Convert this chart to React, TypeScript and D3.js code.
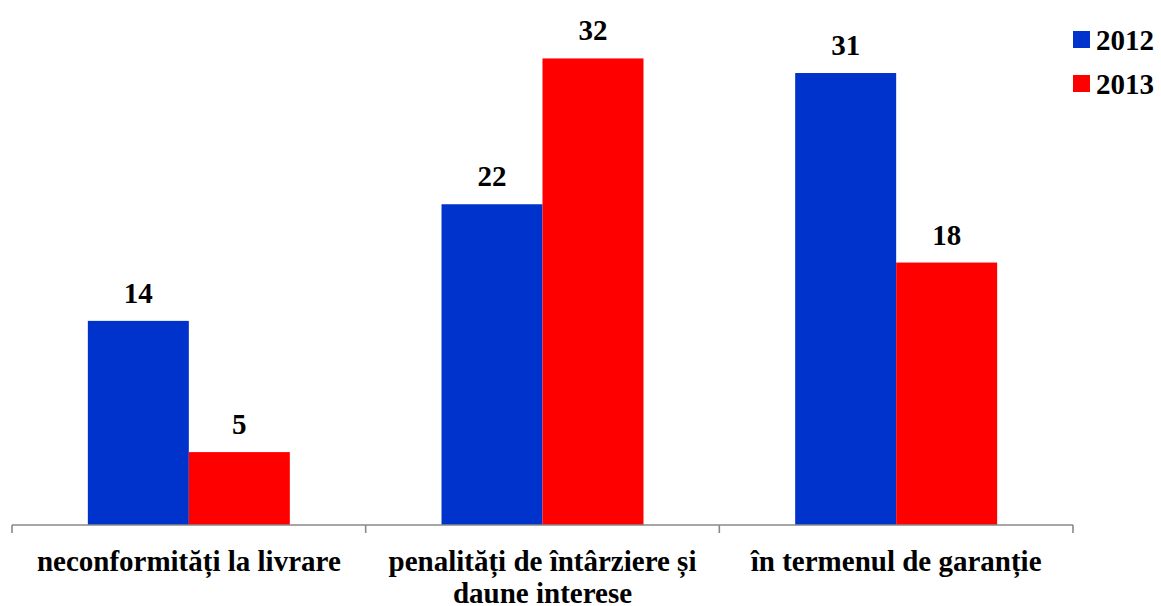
import React from "react";
import * as d3 from "d3";

const categories = ["neconformități la livrare", "penalități de întârziere și\ndaune interese", "în termenul de garanție"];
const seriesNames = ["2012", "2013"];
const values2012 = [14, 22, 31];
const values2013 = [5, 32, 18];
const colors = ["#0033CC", "#FF0000"];

const W = 1161;
const H = 606;
const FONT = "Liberation Serif";

export default function App() {
  const x0 = d3.scaleBand<string>().domain(categories).range([12, 1073]).paddingInner(0).paddingOuter(0);
  const x1 = d3.scaleBand<string>().domain(seriesNames).range([0, x0.bandwidth()]).paddingInner(0).paddingOuter(0.751);
  const y = d3.scaleLinear().domain([0, 35]).range([525, 14.7]);
  const series = [values2012, values2013];
  const ticks = [...categories.map((c) => x0(c) as number), 1073];

  return (
    <svg width={W} height={H} style={{ position: "absolute", left: 0, top: 0, background: "#fff" }}>
      {categories.map((c, i) => (
        <g key={c}>
          {seriesNames.map((s, j) => {
            const v = series[j][i];
            const bx = (x0(c) as number) + (x1(s) as number);
            return (
              <g key={s}>
                <rect x={bx} y={y(v)} width={x1.bandwidth()} height={y(0) - y(v)} fill={colors[j]} />
                <text x={bx + x1.bandwidth() / 2} y={y(v) - 18} textAnchor="middle" style={{ fontFamily: FONT }} fontWeight="bold" fontSize={29} fill="#000">
                  {v}
                </text>
              </g>
            );
          })}
          <text x={(x0(c) as number) + x0.bandwidth() / 2} y={571} textAnchor="middle" style={{ fontFamily: FONT }} fontWeight="bold" fontSize={29} fill="#000">
            {c.split("\n").map((line, k) => (
              <tspan key={k} x={(x0(c) as number) + x0.bandwidth() / 2} dy={k === 0 ? 0 : 32}>
                {line}
              </tspan>
            ))}
          </text>
        </g>
      ))}
      <line x1={12} x2={1073} y1={525} y2={525} stroke="#888" strokeWidth={1.6} />
      {ticks.map((t, i) => (
        <line key={i} x1={t} x2={t} y1={525} y2={533} stroke="#888" strokeWidth={1.6} />
      ))}
      {seriesNames.map((s, j) => (
        <g key={s}>
          <rect x={1073} y={31 + j * 44} width={17} height={17} fill={colors[j]} />
          <text x={1096} y={50 + j * 44} style={{ fontFamily: FONT }} fontWeight="bold" fontSize={29} fill="#000">
            {s}
          </text>
        </g>
      ))}
    </svg>
  );
}
